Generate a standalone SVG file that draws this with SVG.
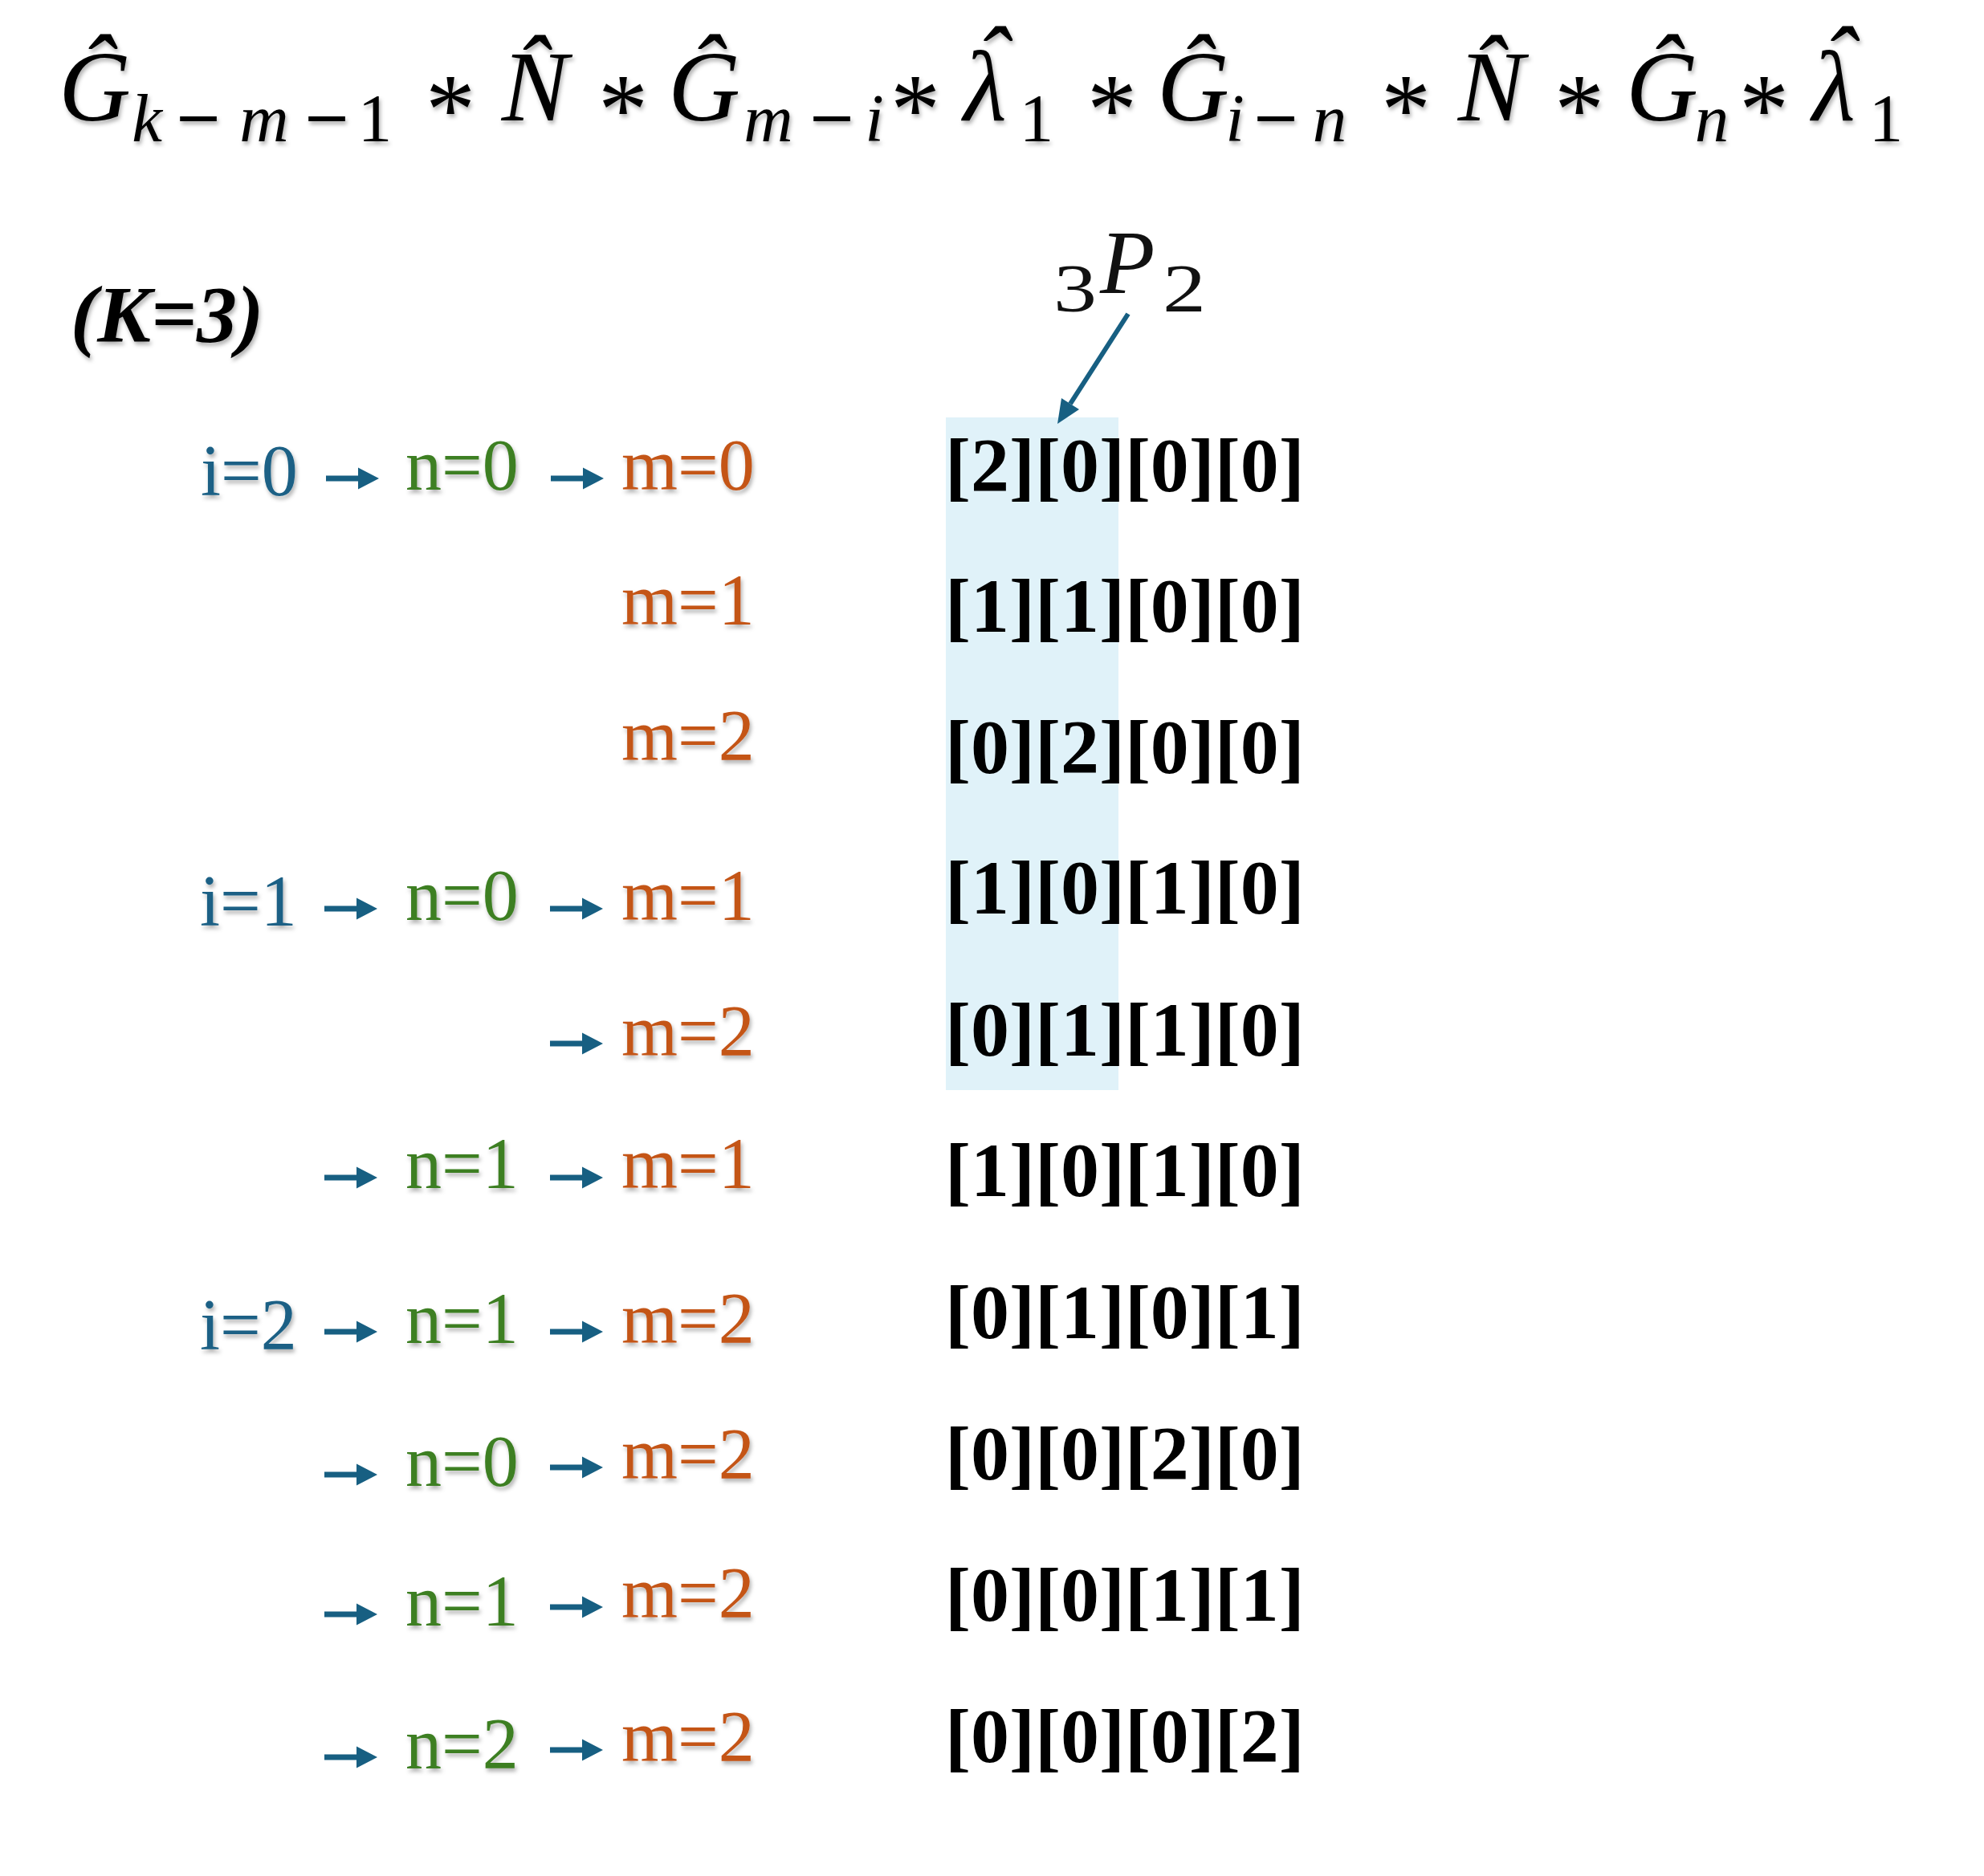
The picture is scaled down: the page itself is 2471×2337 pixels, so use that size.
<svg xmlns="http://www.w3.org/2000/svg" xmlns:xlink="http://www.w3.org/1999/xlink" width="2471" height="2337" viewBox="0 0 2471 2337">
<defs>
<style>
.eq{font-family:"Liberation Serif","Times New Roman",serif;font-style:italic;font-size:124px;fill:#000;text-anchor:middle}
.sub{font-size:85px}
.up{font-style:normal}
.mn{font-style:normal;font-weight:bold}
.lam{text-anchor:start}
.lbl{font-family:"Liberation Serif","Times New Roman",serif;font-size:90px}
.ci{fill:#1A6085}.cn{fill:#3D7F24}.cm{fill:#C45419}
.row{font-family:"Liberation Serif","Times New Roman",serif;font-weight:bold;font-size:96px;fill:#000}
.arr{fill:#175F82}
</style>
<filter id="sh" x="-10%" y="-20%" width="130%" height="150%"><feDropShadow dx="2" dy="4" stdDeviation="2.5" flood-color="#000" flood-opacity="0.3"/></filter>
<path id="ar" d="M0,-3.6 H40 V-13.5 L66,0 L40,13.5 V3.6 H0 Z"/>
</defs>
<rect width="2471" height="2337" fill="#fff"/>

<g id="equation" filter="url(#sh)">
  <text class="eq"><tspan x="118" y="150">Ĝ</tspan><tspan class="sub" x="183" y="176">k</tspan><tspan class="sub mn" x="247" y="176" textLength="56" lengthAdjust="spacingAndGlyphs">−</tspan><tspan class="sub" x="329" y="176">m</tspan><tspan class="sub mn" x="407" y="176" textLength="56" lengthAdjust="spacingAndGlyphs">−</tspan><tspan class="sub up" x="467" y="176">1</tspan><tspan class="up" x="561" y="178">*</tspan><tspan x="666" y="150">N̂</tspan><tspan class="up" x="776" y="178">*</tspan><tspan x="877" y="150">Ĝ</tspan><tspan class="sub" x="957" y="176">m</tspan><tspan class="sub mn" x="1036" y="176" textLength="56" lengthAdjust="spacingAndGlyphs">−</tspan><tspan class="sub" x="1089" y="176">i</tspan><tspan class="up" x="1140" y="178">*</tspan><tspan class="lam" x="1200" y="150" dx="0 -39" dy="0 -31">λˆ</tspan><tspan class="sub up" x="1291" y="176">1</tspan><tspan class="up" x="1385" y="178">*</tspan><tspan x="1486" y="150">Ĝ</tspan><tspan class="sub" x="1538" y="176">i</tspan><tspan class="sub mn" x="1589" y="176" textLength="56" lengthAdjust="spacingAndGlyphs">−</tspan><tspan class="sub" x="1656" y="176">n</tspan><tspan class="up" x="1751" y="178">*</tspan><tspan x="1857" y="150">N̂</tspan><tspan class="up" x="1967" y="178">*</tspan><tspan x="2070" y="150">Ĝ</tspan><tspan class="sub" x="2132" y="176">n</tspan><tspan class="up" x="2197" y="178">*</tspan><tspan class="lam" x="2257" y="150" dx="0 -41" dy="0 -31">λˆ</tspan><tspan class="sub up" x="2349" y="176">1</tspan></text>
</g>

<g id="k-label" filter="url(#sh)">
  <text x="88" y="425" font-family="Liberation Serif, Times New Roman, serif" font-weight="bold" font-style="italic" font-size="100" fill="#000">(K=3)</text>
</g>

<g id="perm-label">
  <text font-family="Liberation Serif, Times New Roman, serif" fill="#111"><tspan x="1312" y="388" font-size="84" textLength="54" lengthAdjust="spacingAndGlyphs">3</tspan><tspan x="1370" y="365" font-size="112" font-style="italic">P</tspan><tspan x="1448" y="388" font-size="84" textLength="54" lengthAdjust="spacingAndGlyphs">2</tspan></text>
</g>

<g id="highlight">
  <rect x="1178" y="520" width="215" height="838" fill="#E0F2F9"/>
</g>

<g id="labels" class="lbl" filter="url(#sh)">
  <g id="row1-labels"><text class="ci" x="250" y="617">i=0</text><text class="cn" x="505" y="610">n=0</text><text class="cm" x="774" y="610">m=0</text></g>
  <g id="row2-labels"><text class="cm" x="774" y="778">m=1</text></g>
  <g id="row3-labels"><text class="cm" x="774" y="947">m=2</text></g>
  <g id="row4-labels"><text class="ci" x="249" y="1153">i=1</text><text class="cn" x="505" y="1146">n=0</text><text class="cm" x="774" y="1146">m=1</text></g>
  <g id="row5-labels"><text class="cm" x="774" y="1315">m=2</text></g>
  <g id="row6-labels"><text class="cn" x="505" y="1480">n=1</text><text class="cm" x="774" y="1480">m=1</text></g>
  <g id="row7-labels"><text class="ci" x="249" y="1681">i=2</text><text class="cn" x="505" y="1673">n=1</text><text class="cm" x="774" y="1673">m=2</text></g>
  <g id="row8-labels"><text class="cn" x="505" y="1851">n=0</text><text class="cm" x="774" y="1842">m=2</text></g>
  <g id="row9-labels"><text class="cn" x="505" y="2025">n=1</text><text class="cm" x="774" y="2015">m=2</text></g>
  <g id="row10-labels"><text class="cn" x="505" y="2203">n=2</text><text class="cm" x="774" y="2194">m=2</text></g>
</g>

<g id="connectors">
  <g class="arr">
    <use xlink:href="#ar" x="406" y="596"/><use xlink:href="#ar" x="686" y="596"/>
    <use xlink:href="#ar" x="404" y="1132"/><use xlink:href="#ar" x="685" y="1132"/>
    <use xlink:href="#ar" x="685" y="1300"/>
    <use xlink:href="#ar" x="404" y="1467"/><use xlink:href="#ar" x="685" y="1467"/>
    <use xlink:href="#ar" x="404" y="1659"/><use xlink:href="#ar" x="685" y="1659"/>
    <use xlink:href="#ar" x="404" y="1837"/><use xlink:href="#ar" x="685" y="1828"/>
    <use xlink:href="#ar" x="404" y="2011"/><use xlink:href="#ar" x="685" y="2002"/>
    <use xlink:href="#ar" x="404" y="2189"/><use xlink:href="#ar" x="685" y="2180"/>
  </g>
  <line x1="1405" y1="391" x2="1333" y2="503" stroke="#175F82" stroke-width="6"/>
  <polygon points="1317,528 1344,510 1322,496" fill="#175F82"/>
</g>

<g id="rows" class="row">
  <text id="r1" x="1177" y="612">[2][0][0][0]</text>
  <text id="r2" x="1177" y="787">[1][1][0][0]</text>
  <text id="r3" x="1177" y="963">[0][2][0][0]</text>
  <text id="r4" x="1177" y="1138">[1][0][1][0]</text>
  <text id="r5" x="1177" y="1315">[0][1][1][0]</text>
  <text id="r6" x="1177" y="1490">[1][0][1][0]</text>
  <text id="r7" x="1177" y="1667">[0][1][0][1]</text>
  <text id="r8" x="1177" y="1843">[0][0][2][0]</text>
  <text id="r9" x="1177" y="2019">[0][0][1][1]</text>
  <text id="r10" x="1177" y="2195">[0][0][0][2]</text>
</g>
</svg>
